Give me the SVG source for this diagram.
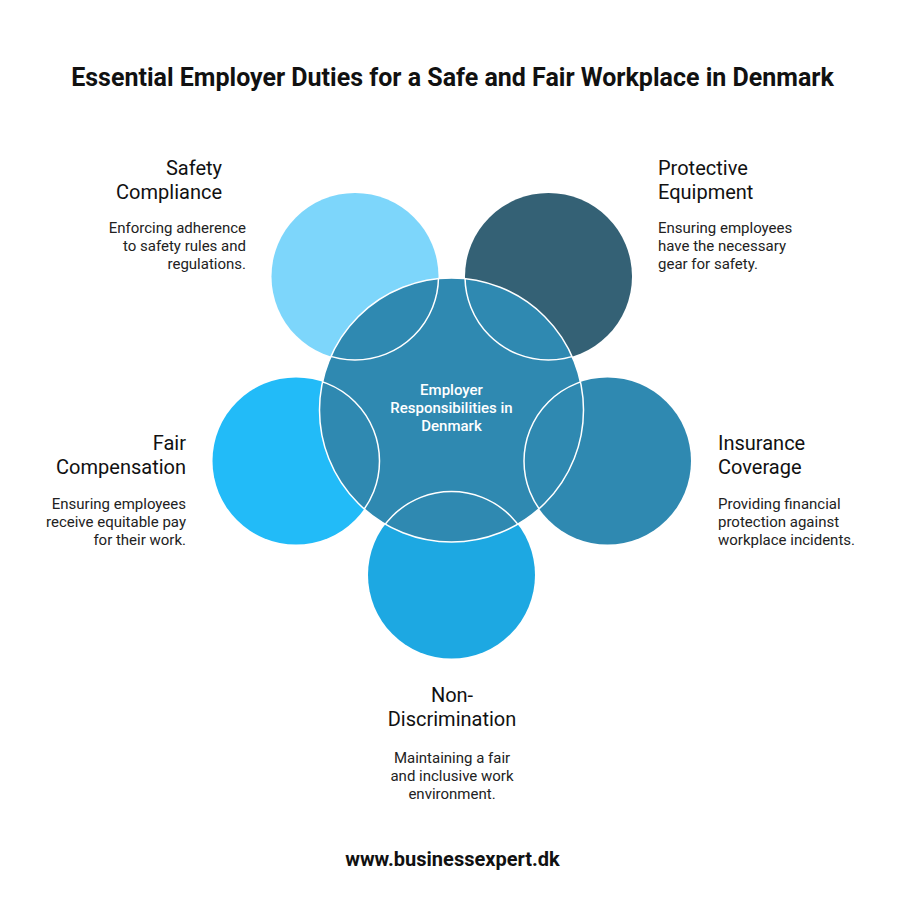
<svg xmlns="http://www.w3.org/2000/svg" width="903" height="924" viewBox="0 0 903 924">
<style>
text{font-family:Roboto,"Liberation Sans",sans-serif;fill:#111}
.title{font-size:25px;font-weight:700}
.h{font-size:20px}
.d{font-size:15px;fill:#222}
.c{font-size:15px;font-weight:500;fill:#fff}
.r{text-anchor:end}
.m{text-anchor:middle}
.ol{fill:none;stroke:#fff;stroke-width:1.5}
</style>
<defs>
<clipPath id="cc"><circle cx="451.5" cy="410" r="132"/></clipPath>
</defs>
<rect width="903" height="924" fill="#fff"/>
<text class="title m" x="452.5" y="86">Essential Employer Duties for a Safe and Fair Workplace in Denmark</text>

<g id="safety">
<circle cx="355" cy="276.5" r="83.5" fill="#7DD6FB"/>
<text class="h r" x="222" y="175">Safety</text>
<text class="h r" x="222" y="199">Compliance</text>
<text class="d r" x="246" y="233">Enforcing adherence</text>
<text class="d r" x="246" y="251">to safety rules and</text>
<text class="d r" x="246" y="269">regulations.</text>
</g>
<g id="protective">
<circle cx="548.5" cy="276.5" r="83.5" fill="#346175"/>
<text class="h" x="658" y="175">Protective</text>
<text class="h" x="658" y="199">Equipment</text>
<text class="d" x="658" y="233">Ensuring employees</text>
<text class="d" x="658" y="251">have the necessary</text>
<text class="d" x="658" y="269">gear for safety.</text>
</g>
<g id="fair">
<circle cx="296" cy="461" r="83.5" fill="#22BBF8"/>
<text class="h r" x="186" y="450">Fair</text>
<text class="h r" x="186" y="474">Compensation</text>
<text class="d r" x="186" y="509">Ensuring employees</text>
<text class="d r" x="186" y="527">receive equitable pay</text>
<text class="d r" x="186" y="545">for their work.</text>
</g>
<g id="insurance">
<circle cx="607.5" cy="461" r="83.5" fill="#2F89B1"/>
<text class="h" x="718" y="450">Insurance</text>
<text class="h" x="718" y="474">Coverage</text>
<text class="d" x="718" y="509">Providing financial</text>
<text class="d" x="718" y="527">protection against</text>
<text class="d" x="718" y="545">workplace incidents.</text>
</g>
<g id="nondiscrimination">
<circle cx="451.5" cy="575" r="83.5" fill="#1DA8E2"/>
<text class="h m" x="452" y="702">Non-</text>
<text class="h m" x="452" y="726">Discrimination</text>
<text class="d m" x="452" y="763">Maintaining a fair</text>
<text class="d m" x="452" y="781">and inclusive work</text>
<text class="d m" x="452" y="799">environment.</text>
</g>
<g id="center">
<circle cx="451.5" cy="410" r="132" fill="#2F89B1" stroke="#fff" stroke-width="1.5"/>
<g clip-path="url(#cc)">
<circle class="ol" cx="355" cy="276.5" r="83.5"/>
<circle class="ol" cx="548.5" cy="276.5" r="83.5"/>
<circle class="ol" cx="296" cy="461" r="83.5"/>
<circle class="ol" cx="607.5" cy="461" r="83.5"/>
<circle class="ol" cx="451.5" cy="575" r="83.5"/>
</g>
<text class="c m" x="451.5" y="395">Employer</text>
<text class="c m" x="451.5" y="413">Responsibilities in</text>
<text class="c m" x="451.5" y="431">Denmark</text>
</g>
<g id="connectors"/>
<text class="title m" x="452.5" y="866" style="font-size:20px">www.businessexpert.dk</text>
</svg>
